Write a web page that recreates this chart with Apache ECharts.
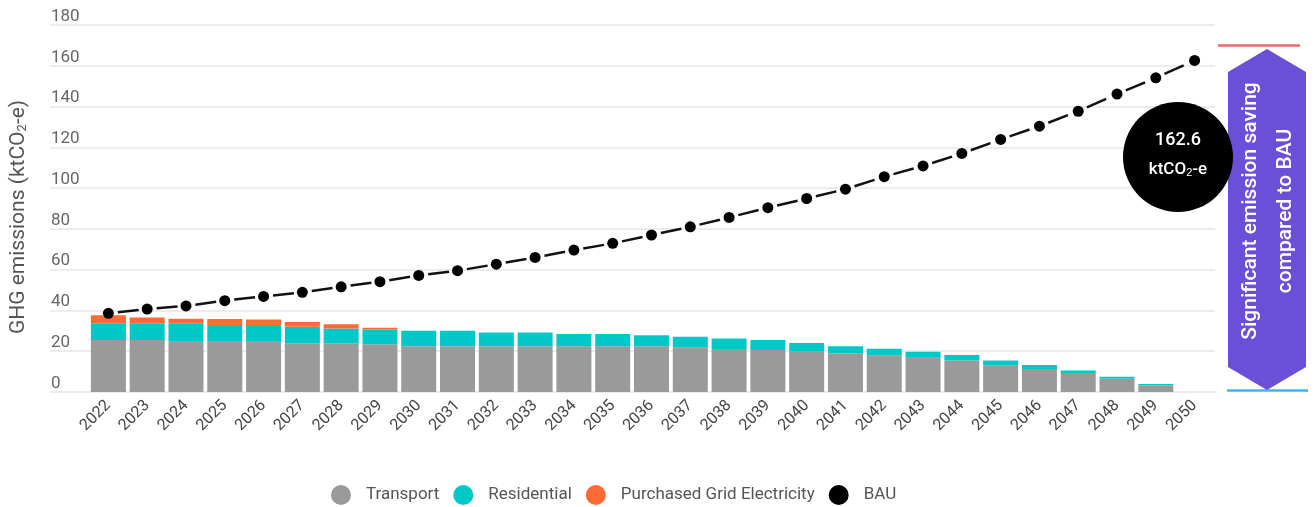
<!DOCTYPE html>
<html>
<head>
<meta charset="utf-8">
<title>GHG emissions</title>
<script src="https://cdn.jsdelivr.net/npm/echarts@6/dist/echarts.min.js"></script>
<style>
  html, body { margin: 0; padding: 0; background: #ffffff; }
  #chart { width: 1314px; height: 507px; }
</style>
</head>
<body>
<div id="chart"></div>
<script>
// Years on the horizontal axis
const years = ['2022','2023','2024','2025','2026','2027','2028','2029','2030','2031','2032','2033','2034','2035','2036','2037','2038','2039','2040','2041','2042','2043','2044','2045','2046','2047','2048','2049','2050'];

// Emissions by source (ktCO2-e), stacked bars
const transport = [25.5,25.5,24.7,24.7,24.7,23.9,23.9,23.4,22.5,22.5,22.5,22.5,22.5,22.5,22.5,21.9,21.1,20.6,19.8,19.0,18.0,16.8,15.4,13.1,11.3,9.3,6.5,3.3,0];
const residential = [8.2,8.2,9.0,8.1,8.1,8.1,7.3,7.3,7.5,7.5,6.7,6.7,5.9,5.9,5.3,5.2,5.2,4.9,4.2,3.5,3.2,3.0,2.7,2.3,1.9,1.2,1.0,0.6,0];
const gridElectricity = [4.0,2.9,2.2,3.0,2.7,2.3,2.0,0.8,0,0,0,0,0,0,0,0,0,0,0,0,0,0,0,0,0,0,0,0,0];

// Business-as-usual trajectory
const bau = [38.6,40.7,42.2,44.8,46.9,48.9,51.6,54.1,57.2,59.5,62.7,66.0,69.6,72.9,77.0,81.0,85.6,90.4,94.9,99.5,105.6,110.9,117.0,123.9,130.4,137.7,146.1,154.1,162.6];

// Value axis ticks
const yTicks = [0,20,40,60,80,100,120,140,160,180];

const COLORS = {
  transport: '#9a9a9a',
  residential: '#00c8c6',
  electricity: '#ff6a35',
  bau: '#000000'
};

const FONT = 'Roboto';

// One dashed stroke per BAU step, so every dash sits between two markers
const bauSegments = bau.slice(0, -1).map((v, i) => ({ coords: [[i, v], [i + 1, bau[i + 1]]] }));

const chart = echarts.init(document.getElementById('chart'), null, { renderer: 'canvas' });

const finalBau = bau[bau.length - 1];

chart.setOption({
  animation: false,
  textStyle: { fontFamily: FONT },
  grid: [
    // background grid carrying the value-axis labels and gridlines
    { left: 49, right: 99, top: 25, bottom: 115 },
    // plotting grid for the yearly bars and BAU line
    { left: 89, width: 1125, top: 25, bottom: 115 }
  ],
  xAxis: [
    { gridIndex: 0, type: 'value', min: 0, max: 1, show: false },
    {
      gridIndex: 1, type: 'category', data: years,
      axisLine: { show: false }, axisTick: { show: false },
      axisLabel: { rotate: 45, fontSize: 16, color: '#444', margin: 11, interval: 0, fontFamily: FONT }
    }
  ],
  yAxis: [
    {
      gridIndex: 0, type: 'value', min: yTicks[0], max: yTicks[yTicks.length - 1], interval: 20,
      axisLine: { show: false }, axisTick: { show: false },
      splitLine: { show: true, lineStyle: { color: '#e6e6e6', width: 1.5 } },
      axisLabel: { inside: true, verticalAlign: 'bottom', margin: 1, fontSize: 17, color: '#666', fontFamily: FONT },
      name: 'GHG emissions (ktCO{sub|2}-e)',
      nameLocation: 'middle', nameRotate: 90, nameGap: 21,
      nameTextStyle: { fontSize: 21, color: '#555', fontFamily: FONT, padding: [0, 17, 0, 0], rich: { sub: { fontSize: 13, verticalAlign: 'bottom', lineHeight: 14, color: '#555' } } }
    },
    { gridIndex: 1, type: 'value', min: yTicks[0], max: yTicks[yTicks.length - 1], interval: 20, show: false, splitLine: { show: false } }
  ],
  legend: {
    left: 326, top: 480,
    icon: 'circle', itemWidth: 20, itemHeight: 20, itemGap: 14,
    textStyle: { fontSize: 17, color: '#555', fontFamily: FONT, padding: [0, 0, 0, 10] },
    data: [
      { name: 'Transport', itemStyle: { color: COLORS.transport } },
      { name: 'Residential', itemStyle: { color: COLORS.residential } },
      { name: 'Purchased Grid Electricity', itemStyle: { color: COLORS.electricity } },
      { name: 'BAU', itemStyle: { color: COLORS.bau } }
    ]
  },
  series: [
    { name: 'Transport', type: 'bar', stack: 'total', xAxisIndex: 1, yAxisIndex: 1, barWidth: 35, data: transport, itemStyle: { color: COLORS.transport } },
    { name: 'Residential', type: 'bar', stack: 'total', xAxisIndex: 1, yAxisIndex: 1, barWidth: 35, data: residential, itemStyle: { color: COLORS.residential } },
    { name: 'Purchased Grid Electricity', type: 'bar', stack: 'total', xAxisIndex: 1, yAxisIndex: 1, barWidth: 35, data: gridElectricity, itemStyle: { color: COLORS.electricity } },
    {
      name: 'BAU', type: 'line', xAxisIndex: 1, yAxisIndex: 1, data: bau,
      symbol: 'circle', symbolSize: 11, showSymbol: true,
      itemStyle: { color: COLORS.bau },
      lineStyle: { opacity: 0 }, z: 5
    },
    {
      name: 'BAU', type: 'lines', coordinateSystem: 'cartesian2d', xAxisIndex: 1, yAxisIndex: 1,
      data: bauSegments, silent: true, z: 4,
      lineStyle: { color: '#111', width: 2.5, opacity: 1, type: [21, 200], dashOffset: -9.5, curveness: 0 }
    }
  ],
  graphic: [
    // reduction range markers
    { type: 'line', z: 100, shape: { x1: 1218, y1: 45.5, x2: 1300, y2: 45.5 }, style: { stroke: '#e9686b', lineWidth: 2.5 } },
    { type: 'line', z: 100, shape: { x1: 1227, y1: 390.5, x2: 1308, y2: 390.5 }, style: { stroke: '#3fb6e8', lineWidth: 2.5 } },
    // double-headed arrow
    {
      type: 'polygon', z: 100,
      shape: { points: [[1267, 49], [1306, 72], [1306, 367], [1267, 390], [1228, 367], [1228, 72]] },
      style: { fill: '#6a50d7' }
    },
    {
      type: 'text', z: 101, x: 1268, y: 211, rotation: Math.PI / 2,
      style: {
        text: 'Significant emission saving\ncompared to BAU',
        fill: '#ffffff', font: '500 21px Roboto', align: 'center', verticalAlign: 'middle', lineHeight: 35
      }
    },
    // 2050 BAU callout
    { type: 'circle', z: 102, shape: { cx: 1178, cy: 157, r: 55 }, style: { fill: '#000000' } },
    {
      type: 'text', z: 103, x: 1178, y: 140,
      style: { text: finalBau.toFixed(1), fill: '#ffffff', font: '500 18px Roboto', align: 'center', verticalAlign: 'middle' }
    },
    {
      type: 'text', z: 103, x: 1178, y: 170,
      style: {
        text: 'ktCO{sub|2}-e', fill: '#ffffff', font: '500 17px Roboto', align: 'center', verticalAlign: 'middle',
        rich: { sub: { fontSize: 11, fill: '#ffffff', fontWeight: 500, verticalAlign: 'bottom', lineHeight: 11 } }
      }
    }
  ]
});
</script>
</body>
</html>
